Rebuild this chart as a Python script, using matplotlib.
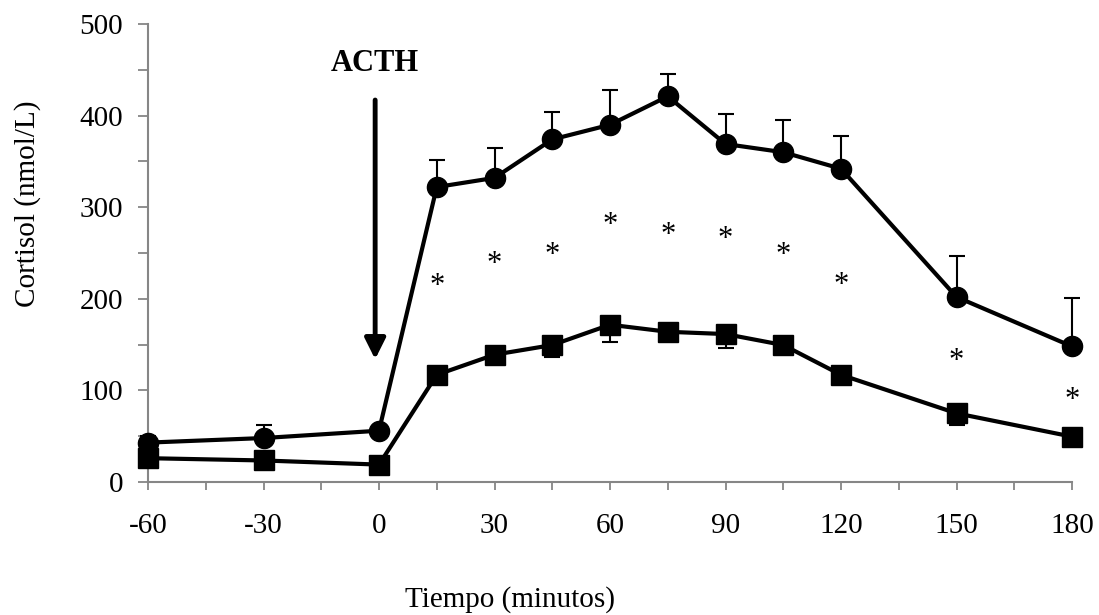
import matplotlib
matplotlib.use("Agg")
import matplotlib.pyplot as plt
from matplotlib.ticker import MultipleLocator

plt.rcParams['font.family'] = ['Liberation Serif', 'DejaVu Serif']
plt.rcParams['axes.unicode_minus'] = False

# ---- data ----
tiempo = [-60, -30, 0, 15, 30, 45, 60, 75, 90, 105, 120, 150, 180]
cortisol_acth = [43, 48, 56, 322, 332, 374, 390, 421, 369, 360, 342, 202, 148]
err_acth = [7, 14, 4, 30, 33, 30, 38, 24, 33, 35, 36, 45, 53]
cortisol_ctrl = [26, 23.5, 19, 117, 139, 149.5, 171.7, 164, 161.5, 149.5, 117, 75, 49.5]
err_ctrl = [5, 5, 5, 8, 8, 13.5, 18.7, 8, 15.7, 8, 8, 13, 8]
star_x = [15, 30, 45, 60, 75, 90, 105, 120, 150, 180]
star_y = [216, 240, 250, 282, 272, 267, 250, 217, 134, 91]
x_ticks = [-60, -30, 0, 30, 60, 90, 120, 150, 180]
y_ticks = [0, 100, 200, 300, 400, 500]

W, H = 1099, 615
fig = plt.figure(figsize=(W / 100, H / 100), dpi=100)
ax = fig.add_axes([148 / W, 1 - 482 / H, (1072 - 148) / W, (482 - 24) / H])

# error bars (one-sided)
zeros = [0] * len(tiempo)
ax.errorbar(tiempo, cortisol_acth, yerr=[zeros, err_acth], fmt='none',
            ecolor='black', elinewidth=1.5, capsize=6, capthick=1.5, zorder=2)
ax.errorbar(tiempo, cortisol_ctrl, yerr=[err_ctrl, zeros], fmt='none',
            ecolor='black', elinewidth=1.5, capsize=6, capthick=1.5, zorder=2)

ax.plot(tiempo, cortisol_acth, color='black', lw=3, marker='o', ms=14.5, zorder=3)
ax.plot(tiempo, cortisol_ctrl, color='black', lw=3, marker='s', ms=14.5, zorder=3)

for sx, sy in zip(star_x, star_y):
    ax.annotate('*', (sx, sy), xytext=(0, -7), textcoords='offset points',
                ha='center', va='baseline', fontsize=22)

# ACTH arrow
ax.annotate('', xy=(-1, 134), xytext=(-1, 417),
            arrowprops=dict(arrowstyle='-|>,head_length=0.5,head_width=0.25',
                            lw=3.5, color='black', mutation_scale=25,
                            shrinkA=0, shrinkB=0))
ax.text(-1.2, 449, 'ACTH', ha='center', va='baseline', fontsize=22,
        fontweight='bold')

ax.set_xlim(-60, 180)
ax.set_ylim(0, 500)
ax.set_xticks(x_ticks)
ax.set_yticks(y_ticks)
ax.xaxis.set_minor_locator(MultipleLocator(15))
ax.yaxis.set_minor_locator(MultipleLocator(50))
ax.tick_params(axis='both', which='both', direction='out', color='#868686',
               width=1.3, labelsize=21)
ax.tick_params(axis='x', which='both', length=6, pad=16)
ax.tick_params(axis='y', which='both', length=7, pad=11)

for s in ['top', 'right']:
    ax.spines[s].set_visible(False)
for s in ['left', 'bottom']:
    ax.spines[s].set_color('#868686')
    ax.spines[s].set_linewidth(1.5)
for art in ax.get_children():
    try:
        art.set_clip_on(False)
    except Exception:
        pass

fig.text(28 / W, 1 - 204 / H, 'Cortisol (nmol/L)', rotation=90,
         ha='center', va='center', fontsize=21)
fig.text(510 / W, 1 - 600 / H, 'Tiempo (minutos)', ha='center', va='center',
         fontsize=21)

fig.savefig('out.png', dpi=100)
